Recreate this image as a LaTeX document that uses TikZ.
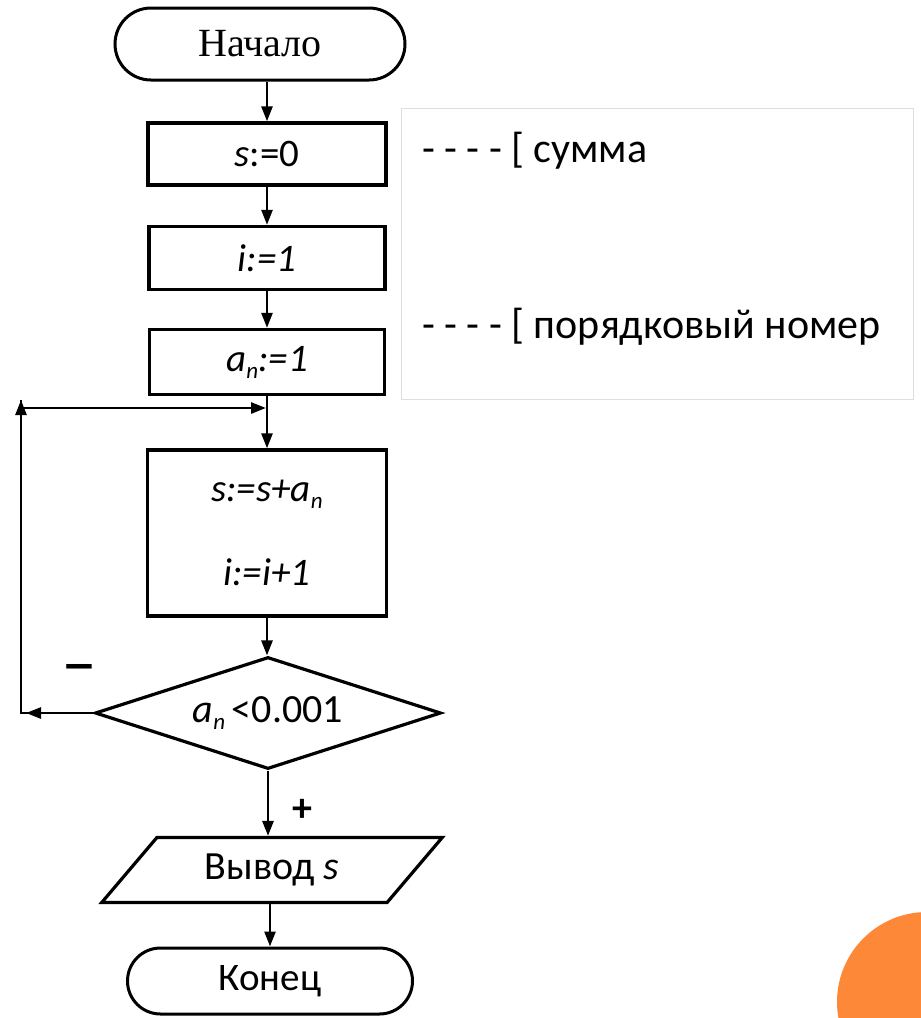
\documentclass[tikz,border=0pt]{standalone}
\usepackage{fontspec}
\setmainfont{Carlito}
\newfontfamily\serifru{Liberation Serif}
\usetikzlibrary{shapes.geometric,shapes.misc,arrows.meta}
\definecolor{orng}{RGB}{253,137,56}
\definecolor{lgray}{RGB}{222,222,222}
\newcommand\subn{\raisebox{-7pt}{\fontsize{23}{23}\selectfont\textit{n}}}
\begin{document}
\begin{tikzpicture}[x=1pt,y=-1pt,
  box/.style={draw, line width=3.4pt, rectangle, inner sep=0pt, font=\fontsize{39}{40}\selectfont},
  term/.style={draw, line width=3pt, rounded rectangle, inner sep=0pt, font=\fontsize{39}{40}\selectfont},
  arr/.style={line width=2.6pt, -{Triangle[length=15pt,width=11pt]}},
  plain/.style={line width=2.6pt},
  lbl/.style={font=\fontsize{40}{40}\selectfont\bfseries, inner sep=0pt},
  legtext/.style={font=\fontsize{42}{42}\selectfont, inner sep=0pt, anchor=base west}
]
\clip (0,0) rectangle (921,1018);
\fill[white] (0,0) rectangle (921,1018);
\fill[orng] (927,1002) circle (90pt);

% legend
\node[draw=lgray, line width=1.2pt, minimum width=512pt, minimum height=291pt, anchor=north west, inner sep=0pt] (legend) at (401,108) {};
\node[legtext] (l1) at (422,162) {- - - - [ сумма};
\node[legtext] (l2) at (422,338) {- - - - [ порядковый номер};

% flowchart
\node[term, minimum width=290pt, minimum height=72pt, font=\serifru\fontsize{40}{40}\selectfont] (start) at (260,44) {Начало};
\node[box, minimum width=238pt, minimum height=62pt] (s0) at (267,154) {\textit{s}:=0};
\node[box, minimum width=236pt, minimum height=63pt] (i1) at (267,258) {\textit{i:=1}};
\node[box, minimum width=235pt, minimum height=65pt] (a1) at (267,362) {\textit{a}\subn\textit{:=1}};
\node[box, minimum width=239pt, minimum height=166pt, align=center] (body) at (267,533) {\textit{s:=s+a}\subn\\[44pt]\textit{i:=i+1}};
\node[draw, diamond, line width=3.2pt, aspect=3.09, minimum width=346pt, minimum height=112pt, inner sep=0pt, font=\fontsize{40}{40}\selectfont] (cond) at (268,713) {\textit{a}\subn\,<0.001};
\node[draw, trapezium, trapezium left angle=45, trapezium right angle=135, trapezium stretches=true, minimum width=341pt, minimum height=65pt, line width=3.2pt, inner sep=0pt, font=\fontsize{40}{40}\selectfont] (out) at (272,870) {Вывод \textit{s}};
\node[term, minimum width=285pt, minimum height=66pt] (end) at (270,981) {Конец};

\node[lbl] (minus) at (79,673) {\scalebox{1.8}[1.3]{–}};
\node[lbl] (plus) at (302,810) {+};

% connectors
\draw[arr] (start.south -| s0.north) -- (s0.north);
\draw[arr] (s0.south) -- (i1.north);
\draw[arr] (i1.south) -- (a1.north);
\draw[arr] (a1.south) -- (body.north);
\draw[arr] (body.south) -- (body.south |- cond.north);
\draw[arr] (cond.south) -- (cond.south |- out.north);
\draw[arr] (out.south -| end.north) -- (end.north);

\coordinate (ll) at (21,713);
\coordinate (lh) at (26,713);
\coordinate (lu) at (21,400);
\coordinate (tl) at (21,408);
\coordinate (tr) at (266,408);
\draw[plain] (cond.west) -- (ll) -- (lu);
\draw[arr] (cond.west) -- (lh);
\draw[arr] (ll) -- (lu);
\draw[arr] (tl) -- (tr);
\end{tikzpicture}
\end{document}
